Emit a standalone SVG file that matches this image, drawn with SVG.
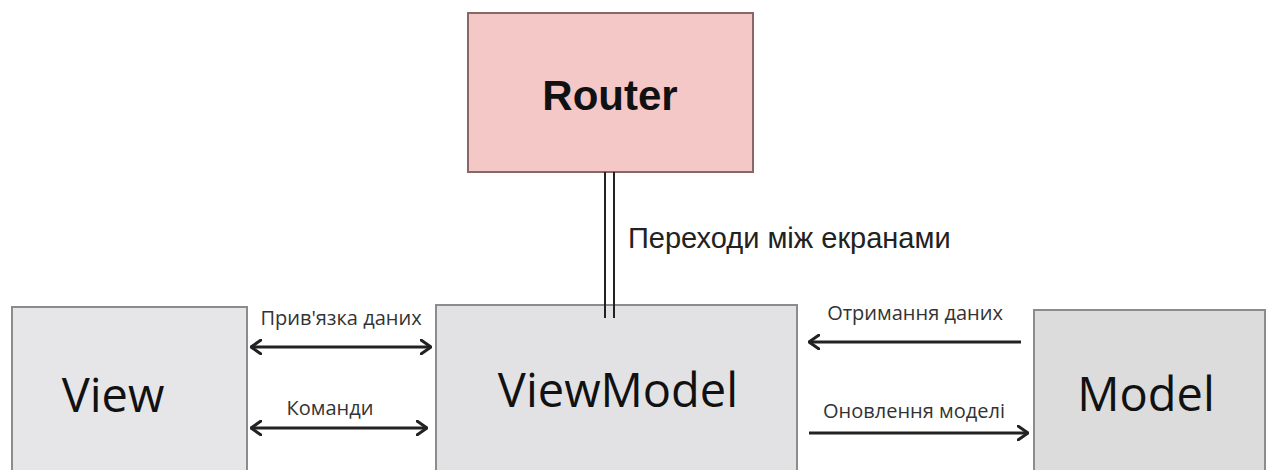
<svg xmlns="http://www.w3.org/2000/svg" width="1273" height="470" viewBox="0 0 1273 470">
  <style>
    .box { stroke: #8c8c8c; stroke-width: 2; }
    .big { font-family: "Open Sans", "DejaVu Sans", sans-serif; font-size: 47px; fill: #111; text-anchor: middle; }
    .lbl { font-family: "Open Sans", "DejaVu Sans", sans-serif; font-size: 20px; fill: #333; text-anchor: middle; }
    .line { stroke: #222; stroke-width: 2.8; fill: none; }
  </style>
  <defs>
    <marker id="chev" viewBox="0 0 12 16" refX="11" refY="8" markerWidth="12" markerHeight="16" markerUnits="userSpaceOnUse" orient="auto-start-reverse">
      <path d="M1,1 L11,8 L1,15" fill="none" stroke="#222" stroke-width="3" stroke-linecap="round" stroke-linejoin="round"/>
    </marker>
  </defs>
  <rect width="1273" height="470" fill="#ffffff"/>

  <g id="router">
    <rect x="468" y="13" width="285" height="159" fill="#f5c8c8" stroke="#8a6666" stroke-width="2"/>
    <text x="610" y="110" font-family="'Liberation Sans', Arial, sans-serif" font-weight="bold" font-size="42" fill="#111" text-anchor="middle">Router</text>
  </g>

  <g id="view">
    <rect class="box" x="12" y="307" width="235" height="175" fill="#e6e6e8"/>
    <text class="big" x="113" y="412">View</text>
  </g>

  <g id="viewmodel">
    <rect class="box" x="436" y="305" width="361" height="177" fill="#e2e2e4"/>
    <text class="big" x="618" y="407">ViewModel</text>
  </g>

  <g id="model">
    <rect class="box" x="1034" y="310" width="231" height="172" fill="#dcdcdc"/>
    <text class="big" x="1146" y="411" font-size="44">Model</text>
  </g>

  <g id="connectors">
    <!-- Router to ViewModel: double line -->
    <line x1="605" y1="172" x2="605" y2="318" stroke="#222" stroke-width="2"/>
    <line x1="614" y1="172" x2="614" y2="318" stroke="#222" stroke-width="2"/>
    <text x="628" y="248" font-family="'Liberation Sans', Arial, sans-serif" font-size="29" fill="#222">Переходи між екранами</text>

    <!-- View <-> ViewModel -->
    <line class="line" x1="251" y1="347" x2="431" y2="347" marker-start="url(#chev)" marker-end="url(#chev)"/>
    <text class="lbl" x="341" y="325">Прив'язка даних</text>
    <line class="line" x1="251" y1="428" x2="427" y2="428" marker-start="url(#chev)" marker-end="url(#chev)"/>
    <text class="lbl" x="330" y="415">Команди</text>

    <!-- ViewModel <-> Model -->
    <line class="line" x1="1021" y1="342" x2="809" y2="342" marker-end="url(#chev)"/>
    <text class="lbl" x="915" y="320">Отримання даних</text>
    <line class="line" x1="809" y1="433" x2="1028" y2="433" marker-end="url(#chev)"/>
    <text class="lbl" x="914" y="418">Оновлення моделі</text>
  </g>
</svg>
